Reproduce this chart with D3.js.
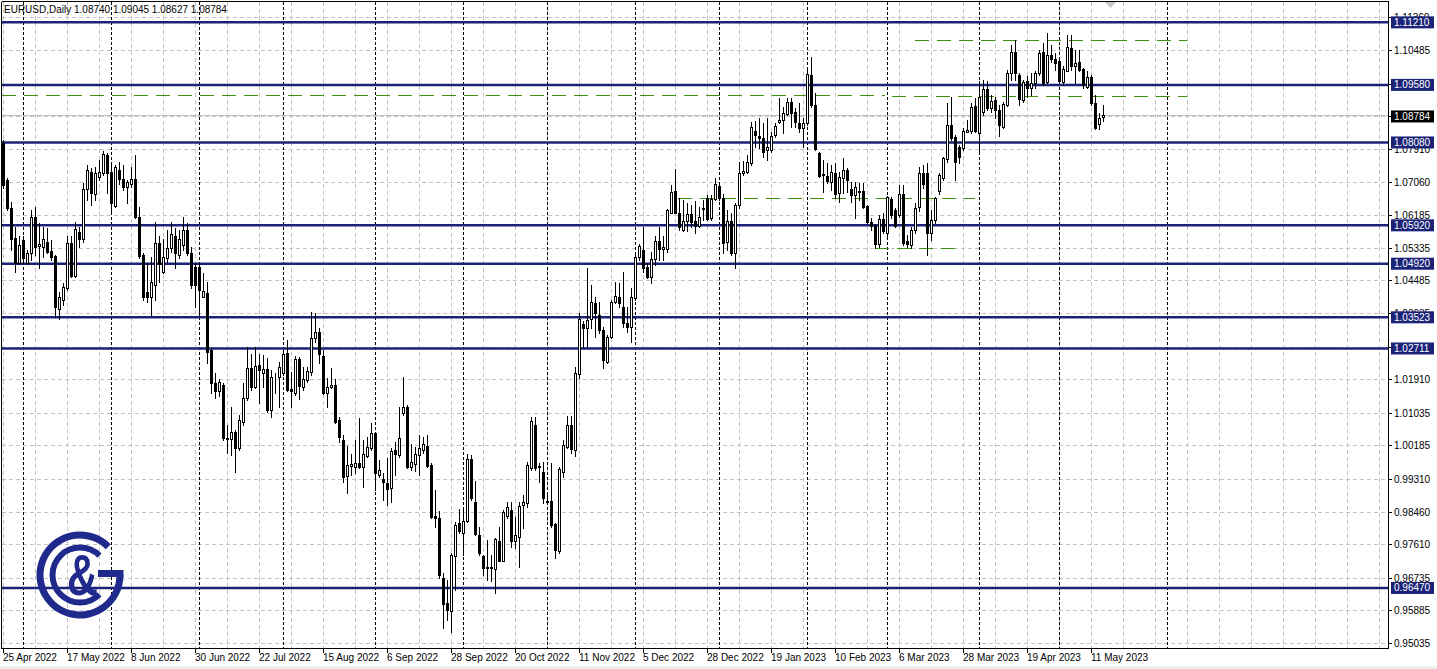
<!DOCTYPE html>
<html><head><meta charset="utf-8">
<script src="https://cdn.jsdelivr.net/npm/d3@7"></script>
<style>body{margin:0;background:#fff;overflow:hidden}svg{display:block;font-family:"Liberation Sans",Arial,sans-serif}</style>
</head><body><svg id="c" width="1437" height="669"></svg>
<script>
// ---- data (EURUSD daily) ----
const opens=[1.0807,1.0710,1.0636,1.0558,1.0493,1.0555,1.0495,1.0519,1.0615,1.0538,
1.0536,1.0549,1.0525,1.0512,1.0373,1.0397,1.0428,1.0545,1.0460,1.0574,
1.0557,1.0686,1.0732,1.0675,1.0717,1.0728,1.0775,1.0732,1.0643,1.0736,
1.0714,1.0693,1.0701,1.0714,1.0615,1.0516,1.0417,1.0406,1.0437,1.0545,
1.0471,1.0506,1.0532,1.0563,1.0515,1.0541,1.0580,1.0519,1.0484,1.0483,
1.0406,1.0415,1.0267,1.0180,1.0159,1.0176,1.0037,1.0034,1.0054,1.0011,
1.0080,1.0141,1.0221,1.0172,1.0227,1.0206,1.0218,1.0111,1.0196,1.0198,
1.0208,1.0260,1.0165,1.0156,1.0243,1.0170,1.0189,1.0211,1.0298,1.0315,
1.0251,1.0156,1.0170,1.0175,1.0086,1.0032,0.9939,0.9966,0.9963,0.9972,
0.9963,0.9992,1.0011,1.0050,0.9941,0.9930,0.9920,0.9907,1.0006,0.9994,
1.0102,1.0119,0.9963,0.9970,0.9994,1.0006,1.0018,0.9967,0.9834,0.9828,
0.9672,0.9609,0.9586,0.9729,0.9817,0.9789,0.9822,0.9982,0.9871,0.9785,
0.9730,0.9702,0.9702,0.9696,0.9770,0.9718,0.9834,0.9850,0.9770,0.9779,
0.9863,0.9869,0.9959,1.0072,0.9966,0.9948,0.9873,0.9874,0.9814,0.9742,
0.9950,1.0015,1.0072,1.0006,1.0205,1.0335,1.0324,1.0347,1.0389,1.0358,
1.0319,1.0237,1.0302,1.0393,1.0406,1.0380,1.0337,1.0326,1.0402,1.0509,
1.0528,1.0484,1.0458,1.0503,1.0552,1.0530,1.0530,1.0625,1.0682,1.0625,
1.0580,1.0604,1.0622,1.0603,1.0590,1.0634,1.0664,1.0610,1.0660,1.0694,
1.0664,1.0548,1.0603,1.0519,1.0645,1.0728,1.0732,1.0754,1.0838,1.0825,
1.0819,1.0788,1.0788,1.0827,1.0862,1.0867,1.0882,1.0913,1.0888,1.0860,
1.0845,1.0858,1.0984,1.0906,1.0781,1.0726,1.0721,1.0706,1.0728,1.0676,
1.0715,1.0736,1.0686,1.0671,1.0680,1.0682,1.0643,1.0602,1.0590,1.0543,
1.0608,1.0573,1.0660,1.0632,1.0619,1.0675,1.0550,1.0541,1.0580,1.0640,
1.0729,1.0729,1.0573,1.0606,1.0682,1.0715,1.0764,1.0853,1.0823,1.0797,
1.0793,1.0836,1.0839,1.0903,1.0832,1.0888,1.0947,1.0897,1.0919,1.0893,
1.0849,1.0906,1.0988,1.1045,1.0984,1.0919,1.0968,1.0949,1.0962,1.0988,
1.1043,1.0966,1.1036,1.1025,1.1021,1.0966,1.0995,1.1053,1.1007,1.1019,
1.0999,1.0952,1.0978,1.0912,1.0856,1.08740];
const highs=[1.0814,1.0715,1.0654,1.0589,1.0563,1.0563,1.0528,1.0632,1.0641,1.0597,
1.0589,1.0584,1.0554,1.0515,1.0419,1.0443,1.0563,1.0563,1.0602,1.0587,
1.0702,1.0749,1.0741,1.0745,1.0762,1.0786,1.0780,1.0758,1.0749,1.0758,
1.0749,1.0710,1.0743,1.0775,1.0641,1.0521,1.0493,1.0510,1.0602,1.0563,
1.0556,1.0580,1.0602,1.0584,1.0580,1.0613,1.0597,1.0536,1.0493,1.0493,
1.0467,1.0445,1.0272,1.0206,1.0191,1.0180,1.0072,1.0119,1.0058,1.0098,
1.0180,1.0276,1.0258,1.0276,1.0258,1.0254,1.0245,1.0215,1.0206,1.0237,
1.0267,1.0293,1.0211,1.0252,1.0250,1.0224,1.0224,1.0367,1.0363,1.0324,
1.0267,1.0193,1.0219,1.0191,1.0093,1.0046,1.0017,0.9996,1.0032,1.0089,
1.0032,1.0041,1.0076,1.0054,0.9980,0.9946,0.9985,1.0011,1.0028,1.0119,
1.0196,1.0124,1.0021,1.0015,1.0046,1.0041,1.0046,0.9973,0.9902,0.9847,
0.9685,0.9668,0.9737,0.9820,0.9852,0.9850,0.9996,0.9993,0.9926,0.9807,
0.9733,0.9772,0.9733,0.9776,0.9807,0.9850,0.9872,0.9872,0.9833,0.9872,
0.9889,0.9976,1.0093,1.0092,0.9972,0.9974,0.9894,0.9973,0.9817,0.9963,
1.0033,1.0095,1.0095,1.0222,1.0363,1.0344,1.0480,1.0437,1.0406,1.0393,
1.0328,1.0306,1.0397,1.0445,1.0441,1.0471,1.0380,1.0428,1.0515,1.0543,
1.0589,1.0493,1.0523,1.0563,1.0589,1.0563,1.0634,1.0697,1.0738,1.0662,
1.0658,1.0649,1.0645,1.0656,1.0641,1.0658,1.0671,1.0671,1.0715,1.0706,
1.0675,1.0632,1.0623,1.0649,1.0758,1.0760,1.0775,1.0862,1.0865,1.0871,
1.0858,1.0871,1.0836,1.0858,1.0923,1.0901,1.0923,1.0923,1.0897,1.0910,
1.0871,1.1001,1.1032,1.0936,1.0784,1.0762,1.0754,1.0749,1.0754,1.0732,
1.0767,1.0741,1.0706,1.0706,1.0702,1.0703,1.0645,1.0610,1.0596,1.0619,
1.0623,1.0668,1.0665,1.0636,1.0697,1.0697,1.0567,1.0589,1.0649,1.0745,
1.0750,1.0754,1.0632,1.0667,1.0728,1.0771,1.0910,1.0927,1.0828,1.0801,
1.0845,1.0866,1.0910,1.0923,1.0967,1.0971,1.0967,1.0932,1.0927,1.0906,
1.0914,1.0997,1.1062,1.1075,1.0988,1.0971,1.0980,1.0990,1.0993,1.1049,
1.1066,1.1092,1.1062,1.1040,1.1025,1.1006,1.1088,1.1088,1.1049,1.1049,
1.1001,1.0993,1.0984,1.0932,1.0886,1.09045];
const lows=[1.0689,1.0632,1.0528,1.0471,1.0491,1.0493,1.0491,1.0502,1.0515,1.0480,
1.0510,1.0519,1.0502,1.0354,1.0347,1.0384,1.0424,1.0458,1.0458,1.0536,
1.0549,1.0658,1.0645,1.0658,1.0710,1.0723,1.0677,1.0623,1.0641,1.0701,
1.0684,1.0649,1.0693,1.0610,1.0506,1.0397,1.0393,1.0358,1.0397,1.0445,
1.0467,1.0497,1.0523,1.0480,1.0506,1.0528,1.0515,1.0428,1.0380,1.0358,
1.0404,1.0232,1.0154,1.0141,1.0146,1.0033,0.9998,0.9994,0.9950,1.0006,
1.0072,1.0137,1.0163,1.0167,1.0128,1.0172,1.0106,1.0093,1.0154,1.0119,
1.0202,1.0159,1.0119,1.0150,1.0139,1.0163,1.0185,1.0202,1.0289,1.0234,
1.0153,1.0119,1.0167,1.0078,1.0028,0.9924,0.9895,0.9941,0.9946,0.9959,
0.9911,0.9989,1.0006,0.9902,0.9937,0.9876,0.9863,0.9872,0.9941,0.9989,
1.0098,0.9959,0.9954,0.9953,0.9941,0.9998,0.9963,0.9828,0.9807,0.9672,
0.9542,0.9563,0.9533,0.9642,0.9789,0.9733,0.9820,0.9876,0.9785,0.9733,
0.9681,0.9668,0.9666,0.9633,0.9716,0.9716,0.9828,0.9755,0.9750,0.9702,
0.9802,0.9859,0.9954,0.9954,0.9924,0.9868,0.9868,0.9807,0.9724,0.9737,
0.9935,1.0011,1.0000,0.9990,1.0193,1.0276,1.0276,1.0324,1.0302,1.0311,
1.0219,1.0232,1.0298,1.0389,1.0380,1.0328,1.0315,1.0289,1.0397,1.0502,
1.0471,1.0454,1.0441,1.0489,1.0502,1.0502,1.0523,1.0623,1.0623,1.0580,
1.0576,1.0576,1.0589,1.0571,1.0589,1.0606,1.0606,1.0606,1.0658,1.0658,
1.0519,1.0529,1.0515,1.0480,1.0636,1.0723,1.0728,1.0749,1.0797,1.0793,
1.0771,1.0762,1.0784,1.0823,1.0858,1.0832,1.0880,1.0849,1.0849,1.0836,
1.0797,1.0854,1.0901,1.0788,1.0719,1.0680,1.0702,1.0684,1.0662,1.0654,
1.0676,1.0680,1.0654,1.0610,1.0658,1.0636,1.0597,1.0580,1.0532,1.0536,
1.0571,1.0561,1.0611,1.0587,1.0613,1.0541,1.0536,1.0532,1.0573,1.0630,
1.0689,1.0515,1.0554,1.0597,1.0675,1.0710,1.0758,1.0815,1.0710,1.0754,
1.0788,1.0835,1.0832,1.0836,1.0780,1.0880,1.0893,1.0888,1.0871,1.0825,
1.0845,1.0903,1.0971,1.0971,1.0906,1.0914,1.0927,1.0932,1.0949,1.0984,
1.0958,1.0962,1.1019,1.0997,1.0962,1.0958,1.0993,1.0997,1.0962,1.0993,
1.0949,1.0949,1.0906,1.0842,1.0842,1.08627];
const closes=[1.0697,1.0636,1.0556,1.0493,1.0541,1.0506,1.0519,1.0615,1.0536,1.0543,
1.0556,1.0523,1.0510,1.0378,1.0406,1.0432,1.0545,1.0460,1.0582,1.0557,
1.0686,1.0735,1.0677,1.0728,1.0730,1.0777,1.0729,1.0649,1.0745,1.0714,
1.0693,1.0704,1.0714,1.0615,1.0513,1.0406,1.0406,1.0445,1.0545,1.0491,
1.0510,1.0532,1.0569,1.0519,1.0556,1.0580,1.0519,1.0437,1.0437,1.0424,
1.0422,1.0263,1.0180,1.0159,1.0185,1.0037,1.0034,1.0054,1.0011,1.0085,
1.0141,1.0221,1.0172,1.0225,1.0215,1.0217,1.0111,1.0198,1.0198,1.0224,
1.0258,1.0163,1.0161,1.0243,1.0173,1.0191,1.0212,1.0298,1.0315,1.0257,
1.0156,1.0170,1.0175,1.0080,1.0040,0.9937,0.9967,0.9969,0.9972,0.9963,
0.9996,1.0015,1.0050,0.9946,0.9954,0.9924,0.9904,1.0005,0.9995,1.0037,
1.0119,0.9963,0.9976,0.9996,1.0011,1.0022,0.9965,0.9833,0.9830,0.9681,
0.9605,0.9590,0.9733,0.9811,0.9795,0.9821,0.9982,0.9882,0.9787,0.9737,
0.9700,0.9698,0.9700,0.9774,0.9718,0.9844,0.9857,0.9770,0.9785,0.9861,
0.9872,0.9967,1.0083,0.9959,0.9963,0.9881,0.9870,0.9811,0.9746,0.9957,
1.0020,1.0072,1.0010,1.0208,1.0347,1.0324,1.0345,1.0391,1.0363,1.0319,
1.0241,1.0302,1.0393,1.0408,1.0389,1.0337,1.0326,1.0404,1.0509,1.0537,
1.0480,1.0458,1.0503,1.0551,1.0530,1.0536,1.0632,1.0680,1.0625,1.0589,
1.0604,1.0622,1.0602,1.0591,1.0615,1.0637,1.0608,1.0661,1.0699,1.0662,
1.0545,1.0603,1.0519,1.0645,1.0728,1.0734,1.0758,1.0848,1.0828,1.0819,
1.0784,1.0795,1.0826,1.0851,1.0867,1.0884,1.0914,1.0884,1.0862,1.0845,
1.0860,1.0987,1.0906,1.0790,1.0721,1.0722,1.0708,1.0732,1.0675,1.0718,
1.0735,1.0710,1.0671,1.0691,1.0682,1.0641,1.0602,1.0590,1.0543,1.0608,
1.0578,1.0665,1.0619,1.0590,1.0675,1.0545,1.0543,1.0580,1.0636,1.0729,
1.0700,1.0573,1.0606,1.0662,1.0723,1.0767,1.0853,1.0819,1.0758,1.0771,
1.0839,1.0840,1.0901,1.0839,1.0927,1.0947,1.0897,1.0916,1.0893,1.0854,
1.0908,1.0990,1.1045,1.0988,1.0920,1.0966,1.0949,1.0964,1.0988,1.1042,
1.0964,1.1036,1.1025,1.1014,1.0968,1.0999,1.1056,1.1006,1.1014,1.0997,
1.0958,1.0978,1.0912,1.0845,1.0871,1.08784];
const dateLabels=["25 Apr 2022","17 May 2022","8 Jun 2022","30 Jun 2022","22 Jul 2022","15 Aug 2022","6 Sep 2022","28 Sep 2022","20 Oct 2022","11 Nov 2022","5 Dec 2022","28 Dec 2022","19 Jan 2023","10 Feb 2023","6 Mar 2023","28 Mar 2023","19 Apr 2023","11 May 2023"];
const labelEvery=16;
const monthStarts=[5,27,49,70,93,115,136,158,179,201,221,244,264,291];
const priceTicks=[1.11360,1.10485,1.09610,1.08760,1.07910,1.07060,1.06185,1.05335,1.04485,1.03635,1.02760,1.01910,1.01035,1.00185,0.99310,0.98460,0.97610,0.96735,0.95885,0.95035];
const levels=[1.11210,1.09580,1.08080,1.05920,1.04920,1.03523,1.02711,0.96470];
const lastPrice=1.08784;
const guidePrices=[1.0933,1.0929,1.1075,1.0662,1.0533];
const guideStart=[-0.25,222.25,228,168.75,218];
const guideEnd=[220.5,296,296,243,238];
const header="EURUSD,Daily  1.08740 1.09045 1.08627 1.08784";

// ---- layout ----
const L=2,R=1388,T=2,B=648;
const svg=d3.select("#c");
const n=Math.min(opens.length,highs.length,lows.length,closes.length);
const x=d3.scaleLinear().domain([0,275]).range([3,1103]);
const y=d3.scaleLinear().domain([0.94905,1.11793]).range([B,0]);
const navy="#1b2378", green="#3f8f0f";

svg.append("rect").attr("width",1437).attr("height",669).attr("fill","#fff");
svg.append("rect").attr("x",0).attr("y",666).attr("width",1437).attr("height",3).attr("fill","#f0f0f0");

const grid=svg.append("g").attr("stroke","#c4c4c4").attr("stroke-dasharray","4,3").attr("stroke-width",1);
priceTicks.forEach(v=>{const yy=Math.round(y(v))+0.5;grid.append("line").attr("x1",L).attr("x2",R).attr("y1",yy).attr("y2",yy);});
d3.range(0,400,8).forEach(i=>{const xx=x(i)+0.5;if(xx<R)grid.append("line").attr("x1",xx).attr("x2",xx).attr("y1",T).attr("y2",B);});

const sep=svg.append("g").attr("stroke","#000").attr("stroke-dasharray","3,2");
monthStarts.forEach(i=>{const xx=x(i)+0.5;sep.append("line").attr("x1",xx).attr("x2",xx).attr("y1",T).attr("y2",B);});

// last price line
svg.append("line").attr("x1",L).attr("x2",R).attr("y1",Math.round(y(lastPrice))+0.5).attr("y2",Math.round(y(lastPrice))+0.5).attr("stroke","#c0c0c0");

// horizontal levels
svg.append("g").selectAll("line").data(levels).join("line")
 .attr("x1",L).attr("x2",R).attr("y1",d=>y(d)).attr("y2",d=>y(d)).attr("stroke",navy).attr("stroke-width",2.5);

// guide dashed lines
svg.append("g").selectAll("line").data(guidePrices).join("line")
 .attr("x1",(d,k)=>x(guideStart[k])).attr("x2",(d,k)=>x(guideEnd[k]))
 .attr("y1",d=>Math.round(y(d))+0.5).attr("y2",d=>Math.round(y(d))+0.5)
 .attr("stroke",green).attr("stroke-dasharray","14,8").attr("stroke-width",1);

// candles
const cg=svg.append("g");
for(let i=0;i<n;i++){
  const cx=Math.round(x(i));
  cg.append("line").attr("x1",cx+0.5).attr("x2",cx+0.5).attr("y1",Math.round(y(highs[i]))).attr("y2",Math.round(y(lows[i]))+1).attr("stroke","#000");
  const top=Math.round(y(Math.max(opens[i],closes[i]))), bot=Math.round(y(Math.min(opens[i],closes[i])));
  cg.append("rect").attr("x",cx-0.5).attr("y",top+0.5).attr("width",2).attr("height",Math.max(bot-top,0))
    .attr("fill",closes[i]>=opens[i]?"#fff":"#000").attr("stroke","#000");
}

// frame and axes
svg.append("line").attr("x1",L).attr("x2",R).attr("y1",T-0.5).attr("y2",T-0.5).attr("stroke","#000");
svg.append("line").attr("x1",L-0.5).attr("x2",L-0.5).attr("y1",T).attr("y2",B).attr("stroke","#000");
svg.append("line").attr("x1",R+0.5).attr("x2",R+0.5).attr("y1",T-1).attr("y2",B+1).attr("stroke","#000");
svg.append("line").attr("x1",L-1).attr("x2",R+1).attr("y1",B+0.5).attr("y2",B+0.5).attr("stroke","#000");

const ax=svg.append("g").attr("font-size",10);
priceTicks.forEach(v=>{const yy=Math.round(y(v))+0.5;
  ax.append("line").attr("x1",R+1).attr("x2",R+4).attr("y1",yy).attr("y2",yy).attr("stroke","#000");
  ax.append("text").attr("x",R+6).attr("y",yy+3.5).text(v.toFixed(5));});
dateLabels.forEach((t,k)=>{const xx=Math.round(x(k*labelEvery))+0.5;
  ax.append("line").attr("x1",xx).attr("x2",xx).attr("y1",B).attr("y2",B+5).attr("stroke","#000");
  ax.append("text").attr("x",xx-0.5).attr("y",B+13).text(t);});

// level labels
const lb=svg.append("g").attr("font-size",10);
levels.forEach(v=>{const yy=y(v);
  lb.append("rect").attr("x",R+3).attr("y",yy-6).attr("width",43).attr("height",12).attr("fill",navy);
  lb.append("text").attr("x",R+6).attr("y",yy+3.5).attr("fill","#fff").text(v.toFixed(5));});
{const yy=y(lastPrice)+1;
 lb.append("rect").attr("x",R+3).attr("y",yy-6).attr("width",43).attr("height",12).attr("fill","#000");
 lb.append("text").attr("x",R+6).attr("y",yy+3.5).attr("fill","#fff").text(lastPrice.toFixed(5));}

// header
svg.append("text").attr("x",4).attr("y",13).attr("font-size",10).text(header);
// shift marker
svg.append("path").attr("d","M1105,2L1116,2L1110.5,8Z").attr("fill","#c8c8c8");

// logo
const lg=svg.append("g").attr("transform","translate(80,575)").attr("fill","#1f2a8c");
const arc=d3.arc();
lg.append("path").attr("d",arc({innerRadius:36.5,outerRadius:43.5,startAngle:Math.PI/2,endAngle:2*Math.PI+Math.PI/4}));
lg.append("path").attr("d",arc({innerRadius:24.5,outerRadius:30.5,startAngle:3*Math.PI/4,endAngle:2*Math.PI+Math.PI/4}));
lg.append("rect").attr("x",18).attr("y",-5).attr("width",25.5).attr("height",7);
lg.append("text").attr("transform","translate(2.5,20) scale(0.74,1)").attr("text-anchor","middle").attr("font-size",58).attr("font-weight","bold").text("&");
</script></body></html>
